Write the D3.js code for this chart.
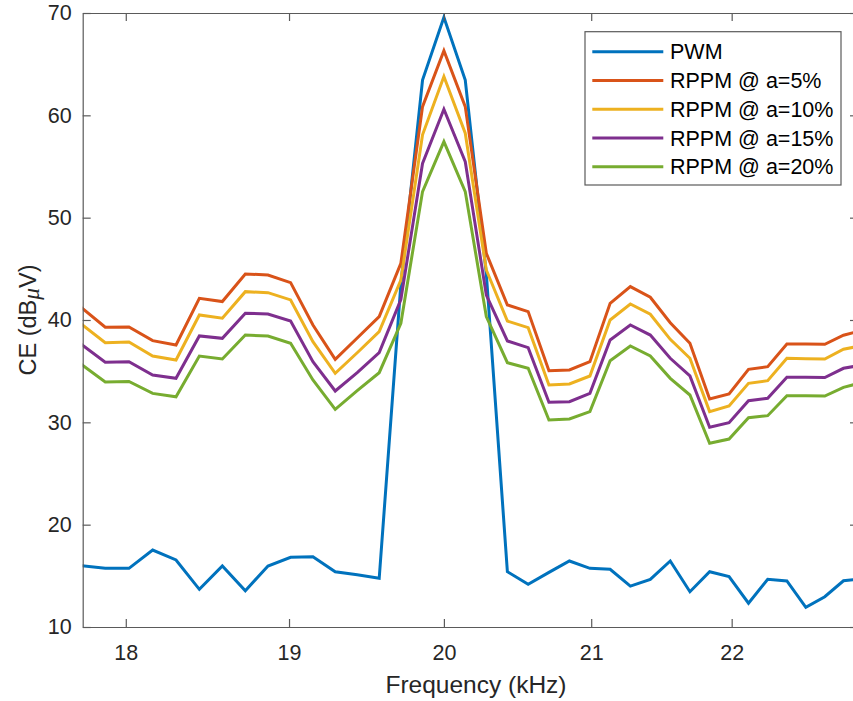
<!DOCTYPE html>
<html>
<head>
<meta charset="utf-8">
<script src="https://cdn.jsdelivr.net/npm/d3@7"></script>
<style>
  html, body { margin: 0; padding: 0; background: #fff; }
  svg { display: block; font-family: "Liberation Sans", Arial, sans-serif; }
</style>
</head>
<body>
<svg id="chart" width="853" height="701"></svg>
<script>
// Frequencies (kHz) of the spectral lines
const freqs = [17.736, 17.878, 18.019, 18.161, 18.302, 18.444, 18.585, 18.727, 18.868, 19.010,
  19.151, 19.293, 19.434, 19.576, 19.717, 19.859, 20.000, 20.142, 20.283, 20.425,
  20.566, 20.708, 20.849, 20.991, 21.132, 21.274, 21.415, 21.557, 21.698, 21.840,
  21.981, 22.123, 22.264, 22.406, 22.547, 22.689, 22.830, 22.972];

const pwm = [16.0, 15.73, 15.73, 17.52, 16.55, 13.68, 15.96, 13.55, 15.96, 16.81,
  16.87, 15.40, 15.1, 14.76, 43.5, 63.45, 69.58, 63.45, 44.5, 15.40,
  14.17, 15.34, 16.45, 15.73, 15.64, 14.0, 14.66, 16.45, 13.45, 15.40,
  14.92, 12.32, 14.66, 14.50, 11.92, 12.96, 14.52, 14.7];

const rppm5 = [41.24, 39.29, 39.32, 37.98, 37.56, 42.12, 41.80, 44.50, 44.40, 43.65,
  39.51, 36.16, 38.24, 40.33, 45.54, 60.85, 66.32, 60.85, 46.52, 41.47,
  40.82, 35.05, 35.12, 35.93, 41.63, 43.26, 42.22, 39.74, 37.72, 32.28,
  32.77, 35.18, 35.44, 37.66, 37.66, 37.63, 38.51, 39.0];

const rppm10 = [39.61, 37.78, 37.85, 36.48, 36.09, 40.49, 40.17, 42.77, 42.67, 41.96,
  37.88, 34.79, 36.8, 38.86, 43.91, 58.1, 63.79, 58.25, 44.89, 39.90,
  39.25, 33.65, 33.75, 34.53, 40.0, 41.56, 40.56, 38.11, 36.26, 31.05,
  31.60, 33.81, 34.07, 36.26, 36.22, 36.19, 37.14, 37.5];

const rppm15 = [37.63, 35.87, 35.93, 34.63, 34.30, 38.44, 38.21, 40.66, 40.59, 39.90,
  35.93, 33.06, 34.85, 36.81, 42.0, 55.3, 60.59, 55.47, 42.44, 37.95,
  37.30, 31.96, 32.02, 32.84, 38.05, 39.51, 38.53, 36.26, 34.53, 29.52,
  29.96, 32.11, 32.35, 34.40, 34.40, 34.37, 35.28, 35.6];

const rppm20 = [35.67, 33.94, 34.00, 32.83, 32.50, 36.48, 36.19, 38.53, 38.44, 37.72,
  34.14, 31.27, 33.09, 34.85, 39.68, 52.55, 57.43, 52.55, 40.33, 35.83,
  35.28, 30.23, 30.33, 31.05, 36.02, 37.46, 36.48, 34.30, 32.67, 27.95,
  28.37, 30.45, 30.65, 32.60, 32.60, 32.57, 33.42, 33.9];

const seriesNames = ["PWM", "RPPM @ a=5%", "RPPM @ a=10%", "RPPM @ a=15%", "RPPM @ a=20%"];
const seriesValues = [pwm, rppm5, rppm10, rppm15, rppm20];
const seriesColors = ["#0072BD", "#D95319", "#EDB120", "#7E2F8E", "#77AC30"];

const xTicks = [18, 19, 20, 21, 22];
const yTicks = [10, 20, 30, 40, 50, 60, 70];
const xDomain = [17.745, 22.94];
const yDomain = [10, 70];

(function () {
const svg = d3.select("#chart");
const pLeft = 82.7, pRight = 858, pTop = 13, pBottom = 627;

const x = d3.scaleLog().domain(xDomain).range([pLeft, pRight]);
const y = d3.scaleLinear().domain(yDomain).range([pBottom, pTop]);

const axisColor = "#5a5a5a";
const textColor = "#262626";

svg.append("defs").append("clipPath").attr("id", "plotclip")
  .append("rect").attr("x", pLeft).attr("y", pTop).attr("width", pRight - pLeft).attr("height", pBottom - pTop);

// Lines
const line = d3.line().x((d, i) => x(freqs[i])).y(d => y(d));
const plot = svg.append("g").attr("clip-path", "url(#plotclip)");
seriesValues.forEach((vals, si) => {
  plot.append("path")
    .datum(vals)
    .attr("d", line)
    .attr("fill", "none")
    .attr("stroke", seriesColors[si])
    .attr("stroke-width", 3)
    .attr("stroke-linejoin", "miter");
});

// Axes (box)
const tickLen = 8;
const gx = svg.append("g").attr("transform", `translate(0,${pBottom})`)
  .call(d3.axisBottom(x).tickValues(xTicks).tickFormat(d3.format("d")).tickSizeInner(-tickLen).tickSizeOuter(0).tickPadding(18));
const gxTop = svg.append("g").attr("transform", `translate(0,${pTop})`)
  .call(d3.axisTop(x).tickValues(xTicks).tickFormat("").tickSizeInner(-tickLen).tickSizeOuter(0));
const gy = svg.append("g").attr("transform", `translate(${pLeft},0)`)
  .call(d3.axisLeft(y).tickValues(yTicks).tickSizeInner(-tickLen).tickSizeOuter(0).tickPadding(11));
const gyRight = svg.append("g").attr("transform", `translate(${pRight},0)`)
  .call(d3.axisRight(y).tickValues(yTicks).tickFormat("").tickSizeInner(-tickLen).tickSizeOuter(0));

[gx, gxTop, gy, gyRight].forEach(g => {
  g.select(".domain").attr("stroke", axisColor).attr("stroke-width", 1.2);
  g.selectAll(".tick line").attr("stroke", axisColor).attr("stroke-width", 1.2);
  g.selectAll(".tick text").attr("fill", textColor).style("font-size", "21.5px")
    .style("font-family", "'Liberation Sans', Arial, sans-serif");
});

// Axis labels
svg.append("text")
  .attr("x", 476)
  .attr("y", 693)
  .attr("text-anchor", "middle")
  .attr("fill", textColor)
  .style("font-size", "24.5px")
  .text("Frequency (kHz)");

const yl = svg.append("text")
  .attr("transform", `translate(36,${(pTop + pBottom) / 2}) rotate(-90)`)
  .attr("text-anchor", "middle")
  .attr("fill", textColor)
  .style("font-size", "23.5px");
yl.append("tspan").text("CE (dB");
yl.append("tspan").text("μ").style("font-style", "italic").style("font-family", "'Liberation Serif', serif").attr("dy", "0.12em");
yl.append("tspan").text("V)").attr("dy", "-0.12em");

// Legend
const lg = svg.append("g");
const lx0 = 585, ly0 = 31.7, lw = 256, lh = 153.3;
lg.append("rect").attr("x", lx0).attr("y", ly0).attr("width", lw).attr("height", lh)
  .attr("fill", "#fff").attr("stroke", axisColor).attr("stroke-width", 1.2);
const rowY = d3.scaleLinear().domain([0, seriesNames.length - 1]).range([51.7, 166.7]);
seriesNames.forEach((name, i) => {
  lg.append("line")
    .attr("x1", 592.3).attr("x2", 663.3)
    .attr("y1", rowY(i)).attr("y2", rowY(i))
    .attr("stroke", seriesColors[i]).attr("stroke-width", 3);
  lg.append("text")
    .attr("x", 670).attr("y", rowY(i)).attr("dy", "0.36em")
    .attr("fill", "#000")
    .style("font-size", "21.5px")
    .text(name);
});
})();
</script>
</body>
</html>
